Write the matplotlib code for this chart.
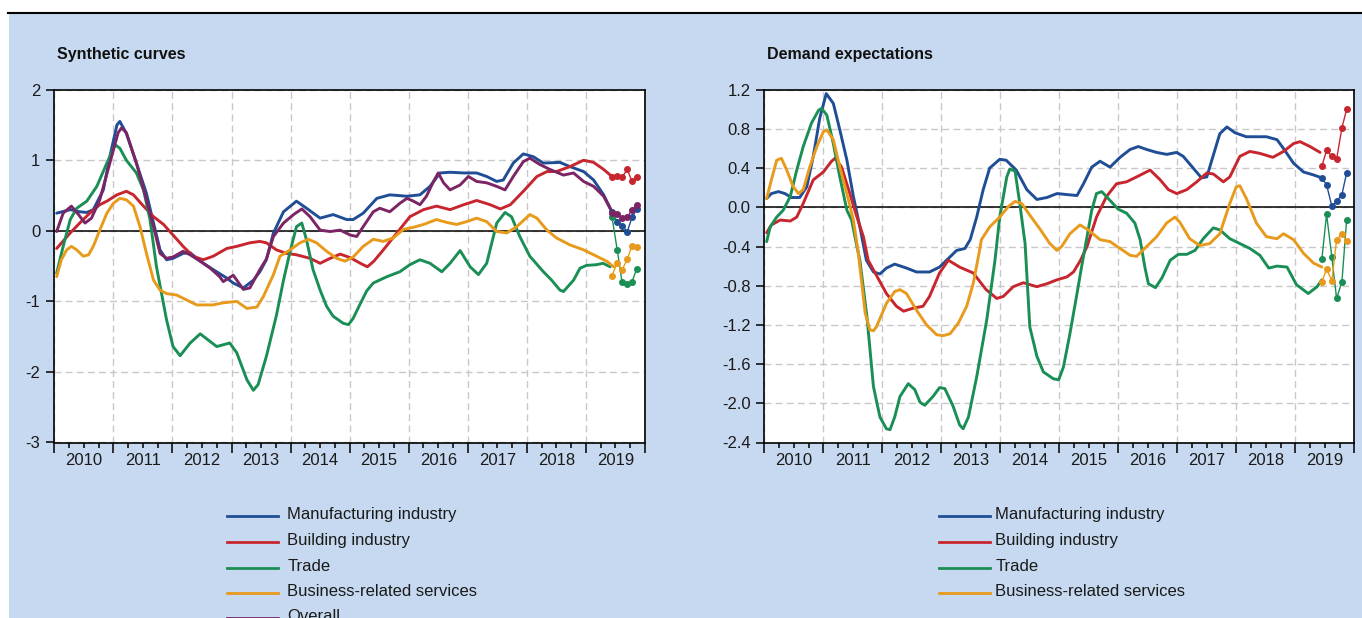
import numpy as np
import matplotlib
matplotlib.use("Agg")
import matplotlib.pyplot as plt
from matplotlib.lines import Line2D
from matplotlib.patches import Rectangle
from matplotlib.ticker import FixedLocator, FuncFormatter, NullFormatter

plt.rcParams['font.family'] = ['Liberation Sans', 'DejaVu Sans']
plt.rcParams['axes.unicode_minus'] = False

W, H = 1362, 618
BG = '#C6D9F0'
C_MAN = '#1F4E96'
C_BUI = '#C8262F'
C_TRA = '#1A8F55'
C_BUS = '#E89A1C'
C_ALL = '#7B2565'

# ---- Synthetic curves (year, value) ----
syn_manuf = [(2010.04, 0.25), (2010.27, 0.30), (2010.43, 0.27), (2010.55, 0.26), (2010.66, 0.30), (2010.83, 0.58),
             (2010.94, 1.05), (2011.06, 1.50), (2011.11, 1.55), (2011.22, 1.38), (2011.39, 0.96), (2011.56, 0.53),
             (2011.68, 0.11), (2011.79, -0.27), (2011.90, -0.41), (2012.01, -0.39), (2012.18, -0.32), (2012.30, -0.31),
             (2012.47, -0.43), (2012.69, -0.55), (2012.92, -0.67), (2013.03, -0.74), (2013.20, -0.81), (2013.37, -0.70),
             (2013.48, -0.58), (2013.59, -0.41), (2013.71, -0.03), (2013.88, 0.27), (2014.10, 0.42), (2014.27, 0.32),
             (2014.50, 0.18), (2014.72, 0.23), (2014.95, 0.16), (2015.06, 0.16), (2015.23, 0.25), (2015.46, 0.46),
             (2015.68, 0.51), (2015.97, 0.49), (2016.19, 0.51), (2016.36, 0.63), (2016.53, 0.82), (2016.70, 0.83),
             (2016.93, 0.82), (2017.15, 0.82), (2017.32, 0.77), (2017.49, 0.70), (2017.60, 0.72), (2017.77, 0.96),
             (2017.94, 1.09), (2018.11, 1.05), (2018.28, 0.96), (2018.56, 0.97), (2018.73, 0.91), (2018.96, 0.84),
             (2019.13, 0.72), (2019.30, 0.51), (2019.44, 0.27)]
syn_build = [(2010.04, -0.25), (2010.27, -0.03), (2010.43, 0.11), (2010.60, 0.25), (2010.77, 0.37), (2010.89, 0.42),
             (2011.06, 0.51), (2011.22, 0.56), (2011.34, 0.51), (2011.51, 0.35), (2011.68, 0.20), (2011.85, 0.09),
             (2012.01, -0.06), (2012.18, -0.22), (2012.35, -0.36), (2012.52, -0.41), (2012.69, -0.36), (2012.92, -0.25),
             (2013.09, -0.22), (2013.31, -0.17), (2013.48, -0.15), (2013.59, -0.17), (2013.76, -0.27), (2013.93, -0.32),
             (2014.10, -0.34), (2014.33, -0.39), (2014.50, -0.46), (2014.67, -0.39), (2014.84, -0.33), (2015.01, -0.38),
             (2015.18, -0.46), (2015.30, -0.51), (2015.41, -0.43), (2015.57, -0.27), (2015.80, -0.03), (2016.02, 0.20),
             (2016.25, 0.30), (2016.47, 0.35), (2016.70, 0.30), (2016.93, 0.37), (2017.15, 0.43), (2017.38, 0.37),
             (2017.55, 0.31), (2017.72, 0.37), (2017.94, 0.56), (2018.17, 0.77), (2018.34, 0.84), (2018.50, 0.84),
             (2018.73, 0.91), (2018.96, 1.00), (2019.13, 0.97), (2019.30, 0.87), (2019.44, 0.77)]
syn_trade = [(2010.04, -0.60), (2010.15, -0.22), (2010.27, 0.16), (2010.38, 0.32), (2010.55, 0.42), (2010.72, 0.63),
             (2010.89, 0.96), (2011.03, 1.22), (2011.11, 1.17), (2011.22, 1.00), (2011.39, 0.82), (2011.51, 0.58),
             (2011.62, 0.16), (2011.73, -0.51), (2011.90, -1.26), (2012.01, -1.64), (2012.13, -1.77), (2012.30, -1.59),
             (2012.47, -1.46), (2012.64, -1.57), (2012.75, -1.64), (2012.97, -1.59), (2013.09, -1.73), (2013.26, -2.11),
             (2013.37, -2.26), (2013.45, -2.18), (2013.59, -1.78), (2013.76, -1.20), (2013.88, -0.70), (2013.99, -0.30),
             (2014.10, 0.06), (2014.19, 0.11), (2014.27, -0.13), (2014.38, -0.55), (2014.50, -0.84), (2014.61, -1.07),
             (2014.72, -1.21), (2014.89, -1.31), (2014.98, -1.33), (2015.06, -1.24), (2015.17, -1.05), (2015.29, -0.85),
             (2015.40, -0.74), (2015.63, -0.65), (2015.85, -0.58), (2016.02, -0.48), (2016.19, -0.41), (2016.36, -0.46),
             (2016.56, -0.58), (2016.70, -0.46), (2016.87, -0.28), (2017.04, -0.51), (2017.18, -0.62), (2017.32, -0.46),
             (2017.49, 0.11), (2017.63, 0.26), (2017.74, 0.20), (2017.88, -0.08), (2018.05, -0.36), (2018.28, -0.58),
             (2018.42, -0.70), (2018.56, -0.84), (2018.62, -0.86), (2018.79, -0.70), (2018.90, -0.53), (2019.01, -0.49),
             (2019.18, -0.48), (2019.29, -0.46), (2019.41, -0.51)]
syn_serv = [(2010.04, -0.65), (2010.12, -0.41), (2010.21, -0.27), (2010.29, -0.22), (2010.38, -0.27), (2010.49, -0.36),
            (2010.58, -0.34), (2010.66, -0.22), (2010.77, 0.01), (2010.89, 0.25), (2011.00, 0.39), (2011.11, 0.46),
            (2011.22, 0.44), (2011.34, 0.35), (2011.45, 0.06), (2011.56, -0.32), (2011.68, -0.70), (2011.79, -0.84),
            (2011.90, -0.89), (2012.07, -0.91), (2012.24, -0.98), (2012.41, -1.05), (2012.69, -1.05), (2012.86, -1.02),
            (2013.09, -1.00), (2013.26, -1.10), (2013.43, -1.08), (2013.54, -0.93), (2013.71, -0.62), (2013.82, -0.36),
            (2013.99, -0.27), (2014.16, -0.17), (2014.30, -0.12), (2014.44, -0.17), (2014.61, -0.29), (2014.78, -0.39),
            (2014.92, -0.43), (2015.06, -0.37), (2015.23, -0.22), (2015.40, -0.12), (2015.57, -0.15), (2015.74, -0.10),
            (2015.91, 0.02), (2016.08, 0.05), (2016.25, 0.09), (2016.47, 0.16), (2016.64, 0.12), (2016.81, 0.09),
            (2016.98, 0.13), (2017.15, 0.18), (2017.32, 0.13), (2017.49, -0.01), (2017.66, -0.03), (2017.83, 0.06),
            (2018.05, 0.23), (2018.17, 0.18), (2018.34, 0.01), (2018.50, -0.10), (2018.73, -0.20), (2018.96, -0.27),
            (2019.18, -0.36), (2019.35, -0.43), (2019.47, -0.51)]
syn_overall = [(2010.04, -0.01), (2010.15, 0.25), (2010.29, 0.35), (2010.41, 0.23), (2010.52, 0.11), (2010.63, 0.18),
               (2010.77, 0.44), (2010.94, 0.96), (2011.08, 1.39), (2011.14, 1.46), (2011.22, 1.39), (2011.39, 0.96),
               (2011.56, 0.44), (2011.68, 0.06), (2011.79, -0.32), (2011.90, -0.39), (2012.01, -0.37), (2012.18, -0.29),
               (2012.30, -0.34), (2012.47, -0.43), (2012.64, -0.53), (2012.80, -0.65), (2012.86, -0.72), (2013.03, -0.63),
               (2013.20, -0.83), (2013.31, -0.81), (2013.48, -0.55), (2013.59, -0.40), (2013.71, -0.08), (2013.88, 0.11),
               (2014.05, 0.23), (2014.19, 0.31), (2014.33, 0.20), (2014.50, 0.01), (2014.67, -0.01), (2014.84, 0.01),
               (2015.01, -0.06), (2015.12, -0.08), (2015.23, 0.06), (2015.40, 0.27), (2015.51, 0.32), (2015.68, 0.27),
               (2015.85, 0.39), (2015.97, 0.46), (2016.08, 0.42), (2016.19, 0.37), (2016.30, 0.49), (2016.42, 0.70),
               (2016.50, 0.82), (2016.59, 0.68), (2016.70, 0.58), (2016.87, 0.65), (2017.01, 0.77), (2017.15, 0.70),
               (2017.32, 0.68), (2017.49, 0.63), (2017.63, 0.58), (2017.77, 0.77), (2017.94, 0.98), (2018.05, 1.03),
               (2018.22, 0.94), (2018.39, 0.87), (2018.62, 0.79), (2018.79, 0.82), (2018.96, 0.70), (2019.13, 0.63),
               (2019.30, 0.49), (2019.44, 0.27)]

# latest monthly observations (dots)
months_2019 = [2019.44, 2019.53, 2019.61, 2019.70, 2019.78, 2019.86]
syn_manuf_m = [0.26, 0.13, 0.07, -0.01, 0.19, 0.31]
syn_build_m = [0.76, 0.78, 0.76, 0.87, 0.70, 0.76]
syn_trade_m = [0.20, -0.27, -0.72, -0.75, -0.72, -0.54]
syn_serv_m = [-0.64, -0.45, -0.56, -0.40, -0.21, -0.23]
syn_overall_m = [0.25, 0.24, 0.18, 0.19, 0.30, 0.37]

# ---- Demand expectations (year, value) ----
dem_manuf = [(2010.04, 0.09), (2010.12, 0.14), (2010.24, 0.16), (2010.35, 0.14), (2010.46, 0.10), (2010.60, 0.10),
             (2010.72, 0.21), (2010.83, 0.52), (2010.94, 0.91), (2011.05, 1.16), (2011.17, 1.06), (2011.28, 0.79),
             (2011.40, 0.48), (2011.51, 0.11), (2011.62, -0.20), (2011.73, -0.54), (2011.85, -0.66), (2011.96, -0.68),
             (2012.07, -0.62), (2012.21, -0.58), (2012.41, -0.62), (2012.58, -0.66), (2012.80, -0.66), (2012.97, -0.61),
             (2013.09, -0.54), (2013.26, -0.44), (2013.40, -0.42), (2013.49, -0.33), (2013.60, -0.10), (2013.71, 0.18),
             (2013.82, 0.40), (2013.99, 0.49), (2014.10, 0.48), (2014.27, 0.38), (2014.45, 0.18), (2014.62, 0.08),
             (2014.79, 0.10), (2014.96, 0.14), (2015.13, 0.13), (2015.30, 0.12), (2015.41, 0.24), (2015.55, 0.41),
             (2015.69, 0.47), (2015.86, 0.41), (2016.03, 0.51), (2016.20, 0.59), (2016.34, 0.62), (2016.48, 0.59),
             (2016.65, 0.56), (2016.82, 0.54), (2016.99, 0.56), (2017.10, 0.52), (2017.27, 0.40), (2017.41, 0.30),
             (2017.50, 0.31), (2017.61, 0.53), (2017.72, 0.75), (2017.84, 0.82), (2017.98, 0.76), (2018.17, 0.72),
             (2018.34, 0.72), (2018.51, 0.72), (2018.69, 0.69), (2018.80, 0.60), (2018.97, 0.45), (2019.14, 0.36),
             (2019.31, 0.33), (2019.45, 0.30)]
dem_build = [(2010.04, -0.26), (2010.12, -0.18), (2010.27, -0.13), (2010.44, -0.14), (2010.55, -0.10), (2010.66, 0.04),
             (2010.83, 0.28), (2011.00, 0.36), (2011.14, 0.47), (2011.20, 0.50), (2011.31, 0.41), (2011.45, 0.14),
             (2011.57, -0.10), (2011.68, -0.30), (2011.76, -0.54), (2012.07, -0.88), (2012.24, -1.01), (2012.36, -1.06),
             (2012.52, -1.03), (2012.69, -1.01), (2012.80, -0.91), (2012.97, -0.67), (2013.12, -0.54), (2013.31, -0.61),
             (2013.54, -0.67), (2013.76, -0.84), (2013.94, -0.93), (2014.05, -0.91), (2014.22, -0.81), (2014.39, -0.77),
             (2014.62, -0.81), (2014.79, -0.78), (2014.96, -0.74), (2015.13, -0.71), (2015.24, -0.66), (2015.36, -0.54),
             (2015.47, -0.40), (2015.63, -0.10), (2015.80, 0.11), (2015.97, 0.24), (2016.14, 0.26), (2016.31, 0.31),
             (2016.54, 0.38), (2016.71, 0.28), (2016.85, 0.18), (2016.99, 0.14), (2017.16, 0.18), (2017.33, 0.26),
             (2017.50, 0.35), (2017.61, 0.34), (2017.78, 0.26), (2017.89, 0.31), (2018.06, 0.52), (2018.23, 0.57),
             (2018.40, 0.55), (2018.62, 0.51), (2018.80, 0.57), (2018.97, 0.65), (2019.08, 0.67), (2019.25, 0.62),
             (2019.42, 0.56)]
dem_trade = [(2010.04, -0.35), (2010.10, -0.20), (2010.21, -0.10), (2010.32, -0.03), (2010.44, 0.11), (2010.55, 0.38),
             (2010.66, 0.62), (2010.80, 0.86), (2010.92, 0.99), (2010.97, 1.01), (2011.06, 0.94), (2011.17, 0.65),
             (2011.28, 0.31), (2011.40, -0.03), (2011.48, -0.13), (2011.57, -0.40), (2011.62, -0.54), (2011.74, -1.12),
             (2011.85, -1.83), (2011.96, -2.14), (2012.07, -2.26), (2012.13, -2.27), (2012.21, -2.14), (2012.30, -1.93),
             (2012.44, -1.80), (2012.55, -1.86), (2012.64, -1.99), (2012.72, -2.02), (2012.86, -1.93), (2012.97, -1.84),
             (2013.06, -1.85), (2013.20, -2.03), (2013.31, -2.22), (2013.37, -2.26), (2013.46, -2.14), (2013.60, -1.73),
             (2013.77, -1.15), (2013.91, -0.54), (2013.99, -0.10), (2014.11, 0.31), (2014.16, 0.39), (2014.25, 0.37),
             (2014.33, 0.04), (2014.42, -0.37), (2014.50, -1.22), (2014.62, -1.52), (2014.73, -1.68), (2014.90, -1.75),
             (2014.99, -1.76), (2015.07, -1.63), (2015.18, -1.29), (2015.30, -0.88), (2015.38, -0.60), (2015.47, -0.30),
             (2015.55, -0.03), (2015.63, 0.14), (2015.72, 0.16), (2015.86, 0.07), (2016.00, -0.02), (2016.14, -0.06),
             (2016.28, -0.16), (2016.37, -0.33), (2016.45, -0.61), (2016.51, -0.78), (2016.63, -0.82), (2016.74, -0.72),
             (2016.88, -0.54), (2017.02, -0.48), (2017.16, -0.48), (2017.30, -0.44), (2017.44, -0.32), (2017.61, -0.21),
             (2017.72, -0.23), (2017.89, -0.32), (2018.06, -0.37), (2018.23, -0.42), (2018.40, -0.49), (2018.55, -0.62),
             (2018.69, -0.60), (2018.86, -0.61), (2019.02, -0.79), (2019.22, -0.88), (2019.37, -0.81), (2019.45, -0.74)]
dem_serv = [(2010.04, 0.09), (2010.12, 0.28), (2010.21, 0.48), (2010.29, 0.50), (2010.38, 0.38), (2010.49, 0.21),
            (2010.58, 0.14), (2010.66, 0.18), (2010.77, 0.41), (2010.89, 0.62), (2011.00, 0.77), (2011.06, 0.79),
            (2011.17, 0.69), (2011.28, 0.41), (2011.40, 0.14), (2011.51, -0.13), (2011.59, -0.45), (2011.71, -1.08),
            (2011.79, -1.25), (2011.85, -1.26), (2011.90, -1.22), (2012.07, -0.98), (2012.21, -0.86), (2012.30, -0.84),
            (2012.41, -0.88), (2012.58, -1.05), (2012.75, -1.20), (2012.92, -1.30), (2013.03, -1.31), (2013.15, -1.29),
            (2013.29, -1.18), (2013.43, -1.01), (2013.54, -0.78), (2013.63, -0.50), (2013.68, -0.33), (2013.82, -0.20),
            (2013.99, -0.10), (2014.14, 0.01), (2014.25, 0.06), (2014.36, 0.04), (2014.50, -0.08), (2014.67, -0.22),
            (2014.84, -0.37), (2014.96, -0.44), (2015.04, -0.40), (2015.18, -0.27), (2015.35, -0.18), (2015.49, -0.23),
            (2015.69, -0.33), (2015.86, -0.35), (2016.03, -0.42), (2016.20, -0.49), (2016.31, -0.50), (2016.48, -0.40),
            (2016.65, -0.30), (2016.82, -0.16), (2016.96, -0.10), (2017.04, -0.15), (2017.21, -0.32), (2017.38, -0.39),
            (2017.55, -0.37), (2017.72, -0.27), (2017.89, 0.04), (2018.00, 0.21), (2018.06, 0.22), (2018.17, 0.09),
            (2018.34, -0.16), (2018.51, -0.30), (2018.69, -0.32), (2018.80, -0.27), (2018.97, -0.33), (2019.14, -0.47),
            (2019.31, -0.57), (2019.45, -0.61)]

months_2019_d = [2019.45, 2019.53, 2019.62, 2019.70, 2019.79, 2019.87]
dem_manuf_m = [0.30, 0.23, 0.01, 0.06, 0.13, 0.35]
dem_build_m = [0.42, 0.58, 0.52, 0.49, 0.81, 1.00]
dem_trade_m = [-0.53, -0.07, -0.51, -0.93, -0.76, -0.13]
dem_serv_m = [-0.76, -0.63, -0.75, -0.33, -0.27, -0.34]

labels = ['Manufacturing industry', 'Building industry', 'Trade', 'Business-related services', 'Overall']
colors = [C_MAN, C_BUI, C_TRA, C_BUS, C_ALL]


def fx(x):
    return x / W


def fy(y):
    return 1 - y / H


fig = plt.figure(figsize=(W / 100, H / 100), dpi=100, facecolor='white')
fig.add_artist(Rectangle((fx(9), 0), 1 - fx(9), fy(13.5), transform=fig.transFigure,
                         facecolor=BG, edgecolor='none', zorder=0))
fig.add_artist(Line2D([fx(8), 1], [fy(12.7), fy(12.7)], transform=fig.transFigure,
                      color='black', lw=1.5, zorder=1))


def year_label(v, pos):
    if abs(v - np.floor(v) - 0.5) < 0.01:
        return str(int(np.floor(v)))
    return ''


def one_dec(v, pos):
    v = round(v, 1)
    if v == 0:
        v = 0.0
    return '%.1f' % abs(v) if v == 0 else '%.1f' % v


def setup(ax, ylim, yticks, yfmt):
    ax.set_facecolor('white')
    ax.set_xlim(2010, 2020)
    ax.set_ylim(*ylim)
    ax.xaxis.set_major_locator(FixedLocator(np.arange(2010, 2021)))
    ax.xaxis.set_major_formatter(NullFormatter())
    ax.xaxis.set_minor_locator(FixedLocator(np.arange(2010, 2020.01, 0.25)))
    ax.xaxis.set_minor_formatter(FuncFormatter(year_label))
    ax.set_yticks(yticks)
    ax.yaxis.set_major_formatter(FuncFormatter(yfmt))
    ax.tick_params(axis='x', which='major', direction='out', length=7.2, width=1.1, color='black')
    ax.tick_params(axis='x', which='minor', direction='out', length=3.6, width=1.1, color='black',
                   labelsize=12, pad=4, labelcolor='#1a1a1a')
    ax.tick_params(axis='y', which='major', direction='out', length=5.5, width=1.1, color='black',
                   labelsize=12, pad=4.5, labelcolor='#1a1a1a')
    ax.grid(True, which='major', color='#C8C8C8', lw=1.0, linestyle=(0, (5, 3)))
    ax.set_axisbelow(True)
    for s in ax.spines.values():
        s.set_linewidth(1.2)
        s.set_color('black')
    ax.axhline(0, color='black', lw=1.1, zorder=2)


def draw(ax, curves, monthly, mx):
    for pts, col in curves:
        arr = np.array(pts)
        ax.plot(arr[:, 0], arr[:, 1], color=col, lw=2.1, solid_joinstyle='round',
                solid_capstyle='round', zorder=3)
    for vals, col in monthly:
        ax.plot(mx, vals, color=col, lw=1.0, marker='o', ms=4.0, zorder=4)


ax1 = fig.add_axes([fx(54.3), fy(442.5), (645 - 54.3) / W, (442.5 - 89.7) / H])
setup(ax1, (-3, 2), [-3, -2, -1, 0, 1, 2], lambda v, p: '%d' % round(v))
draw(ax1,
     [(syn_manuf, C_MAN), (syn_build, C_BUI), (syn_trade, C_TRA), (syn_serv, C_BUS), (syn_overall, C_ALL)],
     [(syn_manuf_m, C_MAN), (syn_build_m, C_BUI), (syn_trade_m, C_TRA), (syn_serv_m, C_BUS), (syn_overall_m, C_ALL)],
     months_2019)

ax2 = fig.add_axes([fx(764.3), fy(442.5), (1354.3 - 764.3) / W, (442.5 - 89.7) / H])
setup(ax2, (-2.4, 1.2), [-2.4, -2.0, -1.6, -1.2, -0.8, -0.4, 0.0, 0.4, 0.8, 1.2], one_dec)
draw(ax2,
     [(dem_manuf, C_MAN), (dem_build, C_BUI), (dem_trade, C_TRA), (dem_serv, C_BUS)],
     [(dem_manuf_m, C_MAN), (dem_build_m, C_BUI), (dem_trade_m, C_TRA), (dem_serv_m, C_BUS)],
     months_2019_d)

fig.text(fx(57), fy(55), 'Synthetic curves', fontsize=11.5, fontweight='bold', va='center', ha='left', color='#111111')
fig.text(fx(767), fy(55), 'Demand expectations', fontsize=11.5, fontweight='bold', va='center', ha='left', color='#111111')

# legends
rows_base = [519.3, 545.0, 570.7, 595.7, 620.7]
for lx0, lx1, tx, n in [(226.7, 277.7, 287.3, 5), (938.7, 989.7, 995.3, 4)]:
    for i in range(n):
        yb = rows_base[i]
        fig.add_artist(Line2D([fx(lx0), fx(lx1)], [fy(yb - 3), fy(yb - 3)], transform=fig.transFigure,
                              color=colors[i], lw=2.0))
        fig.text(fx(tx), fy(yb), labels[i], fontsize=12, va='baseline', ha='left', color='#1a1a1a')

fig.savefig('out.png', dpi=100, facecolor='white')
